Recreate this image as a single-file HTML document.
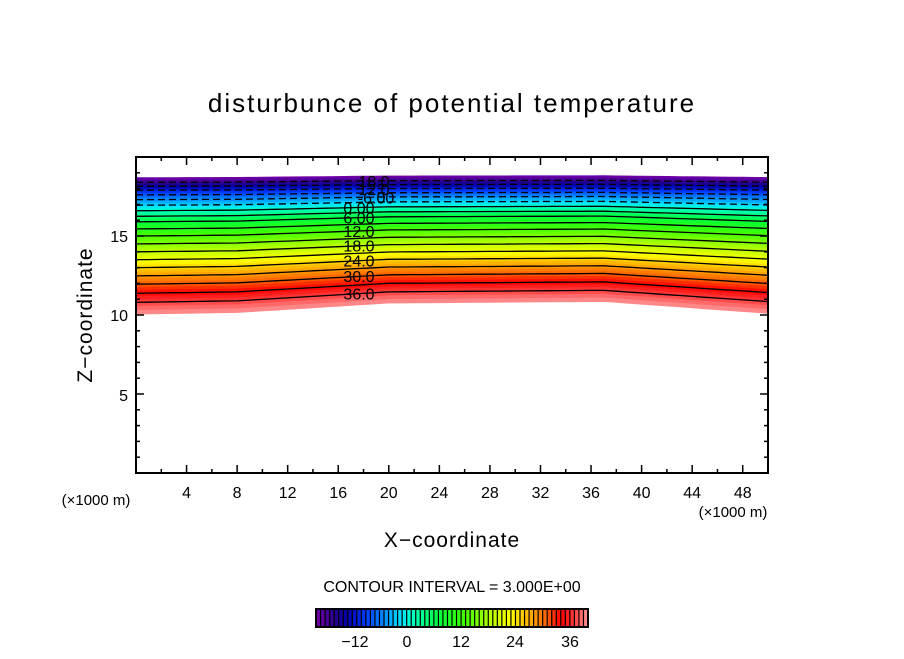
<!DOCTYPE html>
<html><head><meta charset="utf-8"><style>
body{margin:0;background:#fff;}
svg text{font-family:"Liberation Sans",sans-serif;fill:#000;}
</style></head><body>
<svg id="s" width="904" height="654" xmlns="http://www.w3.org/2000/svg">
<text x="452" y="112" font-size="26" text-anchor="middle" letter-spacing="2">disturbunce of potential temperature</text>
<g id="field"></g>
<rect x="136" y="157" width="632" height="316" fill="none" stroke="#000" stroke-width="2"/>
<g id="ticks" stroke="#000" stroke-width="1.5"></g>
<g font-size="16" text-anchor="middle" id="xl"></g>
<g font-size="16" text-anchor="end">
<text x="128" y="321">10</text><text x="128" y="242">15</text><text x="128" y="401">5</text>
</g>
<text x="96" y="505" font-size="15" text-anchor="middle">(×1000 m)</text>
<text x="733" y="517" font-size="15" text-anchor="middle">(×1000 m)</text>
<text x="452" y="547" font-size="21" text-anchor="middle" letter-spacing="1">X−coordinate</text>
<text x="0" y="0" font-size="21" text-anchor="middle" letter-spacing="1" transform="translate(92,315) rotate(-90)">Z−coordinate</text>
<text x="452" y="592" font-size="16" text-anchor="middle">CONTOUR INTERVAL = 3.000E+00</text>
<g id="cb"></g>
<rect x="316" y="609" width="272" height="18" fill="none" stroke="#000" stroke-width="2"/>
<g font-size="16" text-anchor="middle">
<text x="355" y="647">−12</text><text x="407" y="647">0</text><text x="461" y="647">12</text><text x="515" y="647">24</text><text x="570" y="647">36</text>
</g>
</svg>
<script>
var NS="http://www.w3.org/2000/svg";
function el(p,t,a){var e=document.createElementNS(NS,t);for(var k in a)e.setAttribute(k,a[k]);p.appendChild(e);return e;}
var stops=[[-21,[120,0,170]],[-17,[40,0,140]],[-14,[0,0,170]],[-10,[0,60,255]],[-5,[0,160,255]],[-2,[0,230,255]],[0,[0,255,200]],[6,[0,255,60]],[12,[70,255,0]],[18,[190,255,0]],[22,[255,255,0]],[26,[255,176,0]],[30,[255,96,0]],[33,[255,0,0]],[36,[255,60,60]],[39,[255,150,150]]];
function col(v){for(var i=0;i<stops.length-1;i++){var a=stops[i],b=stops[i+1];if(v<=b[0]){var t=Math.max(0,(v-a[0])/(b[0]-a[0]));return "rgb("+[0,1,2].map(function(j){return Math.round(a[1][j]+(b[1][j]-a[1][j])*t)}).join(",")+")";}}return "rgb(255,150,150)";}
var H=[[39,10.05],[36,10.8],[30,11.95],[24,13.0],[18,14.0],[12,15.0],[6,15.9],[0,16.6],[-6,17.3],[-12,17.9],[-18,18.4],[-21,18.7]];
function h(v){for(var i=0;i<H.length-1;i++){var a=H[i],b=H[i+1];if(v>=b[0]){return a[1]+(b[1]-a[1])*(a[0]-v)/(a[0]-b[0]);}}return 18.7;}
function b(x){var p=[[0,10.3],[8,10.4],[20,11.0],[37,11.1],[50,10.35]];for(var i=0;i<p.length-1;i++){if(x<=p[i+1][0]){return p[i][1]+(p[i+1][1]-p[i][1])*(x-p[i][0])/(p[i+1][0]-p[i][0]);}}return 10.3;}
function z(v,x){var w=Math.max(0.15,(v+21)/60);return h(v)+(b(x)-10.3)*w;}
function px(x){return 136+x*12.64;} function py(zz){return 473-zz*15.8;}
function line(v){var pts=[];for(var x=0;x<=50;x+=1)pts.push([px(x),py(z(v,x))]);return pts;}
var f=document.getElementById("field");
for(var v=-21;v<39;v++){var up=line(v),lo=line(v+1).reverse();
 el(f,"polygon",{points:up.concat(lo).map(function(p){return p[0].toFixed(1)+","+p[1].toFixed(1)}).join(" "),fill:col(v+0.5),stroke:col(v+0.5),"stroke-width":"0.6"});}
for(var v=-18;v<=36;v+=3){var pts=line(v);var a={points:pts.map(function(p){return p[0].toFixed(1)+","+p[1].toFixed(1)}).join(" "),fill:"none",stroke:"#000","stroke-width":"1.3"};if(v<0)a["stroke-dasharray"]="7,4";el(f,"polyline",a);}
var labs=[[-18,"18.0"],[-12,"12.0"],[-6,"6.00"],[0,"0.00"],[6,"6.00"],[12,"12.0"],[18,"18.0"],[24,"24.0"],[30,"30.0"],[36,"36.0"]];
labs.forEach(function(l){var y=py(z(l[0],18));var xx=l[0]<0?(l[0]==-6?376:374):359;var t=el(f,"text",{x:xx,y:y+6,"font-size":"16","text-anchor":"middle"});t.textContent=(l[0]==-6?"-":"")+l[1];});
var tk=document.getElementById("ticks"),xl=document.getElementById("xl");
for(var x=2;x<50;x+=2){var L=(x%4==0)?8:4;var X=px(x);el(tk,"line",{x1:X,y1:473,x2:X,y2:473-L});el(tk,"line",{x1:X,y1:157,x2:X,y2:157+L});
 if(x%4==0){var t=el(xl,"text",{x:X,y:498});t.textContent=x;}}
for(var zz=1;zz<20;zz++){var L=(zz%5==0)?8:4;var Y=py(zz);el(tk,"line",{x1:136,y1:Y,x2:136+L,y2:Y});el(tk,"line",{x1:768,y1:Y,x2:768-L,y2:Y});}
var cb=document.getElementById("cb");var n=60,w=272/n;
for(var i=0;i<n;i++){el(cb,"rect",{x:316+i*w,y:609,width:w+0.3,height:18,fill:col(-21+i+0.5)});el(cb,"line",{x1:316+i*w,y1:609,x2:316+i*w,y2:627,stroke:"#000","stroke-width":"1.2"});}
</script>
</body></html>
